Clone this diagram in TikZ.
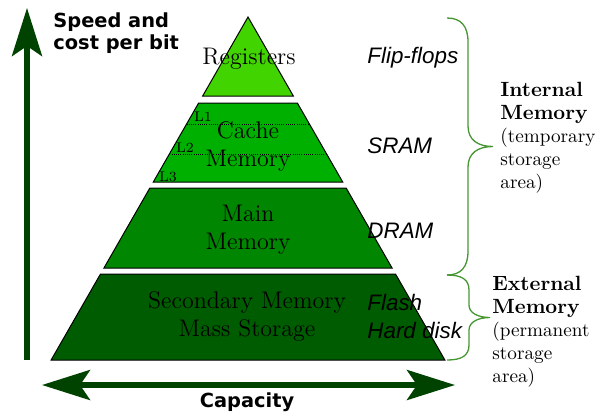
\documentclass[tikz,border=0pt]{standalone}
\usepackage{fontspec}
\newfontfamily\headfont{DejaVu Sans}
\newfontfamily\techfont{Liberation Sans}
\usetikzlibrary{arrows.meta,positioning}
\definecolor{regcol}{RGB}{66,212,0}
\definecolor{cachecol}{RGB}{0,176,0}
\definecolor{maincol}{RGB}{0,134,0}
\definecolor{seccol}{RGB}{0,92,0}
\definecolor{axiscol}{RGB}{0,66,0}
\definecolor{bracecol}{RGB}{70,150,50}

\begin{document}
\begin{tikzpicture}[x=0.5pt, y=-0.5pt, every node/.style={inner sep=0pt}]
  \tikzset{
    layer/.style={draw=black, line width=0.5pt},
    level/.style={font=\fontsize{12}{14}\selectfont, align=center},
    tech/.style={font=\techfont\itshape\fontsize{11.2}{14}\selectfont, align=left, anchor=west},
    cachelvl/.style={font=\fontsize{7}{8}\selectfont},
    lvlline/.style={line width=0.5pt, dash pattern=on 0.5pt off 0.6pt},
    kind/.style={font=\fontsize{9.6}{11.5}\selectfont, align=left, anchor=north west},
    bigtip/.tip={Stealth[length=24pt, width=15pt, inset=5pt]},
    axis/.style={draw=axiscol, line width=2.7pt},
    curly/.style={draw=bracecol, line width=0.65pt}
  }
  \useasboundingbox (0,0) rectangle (598,414);

  % pyramid layers
  \foreach \yt/\yb/\col in {17/96/regcol, 103/182/cachecol, 188/268/maincol, 274/360/seccol} {
    \draw[layer, fill=\col] ({248-0.574*(\yt-17)},\yt) -- ({248+0.574*(\yt-17)},\yt)
      -- ({248+0.574*(\yb-17)},\yb) -- ({248-0.574*(\yb-17)},\yb) -- cycle;
  }
  % cache levels
  \draw[lvlline] (186.6,124) -- (309.4,124);
  \draw[lvlline] (169.4,154) -- (326.6,154);
  \node[cachelvl] (l1) at (203,117) {L1};
  \node[cachelvl] (l2) at (185,148) {L2};
  \node[cachelvl] (l3) at (168,177) {L3};

  % layer names
  \node[level] (reg)  at (249,59)  {Registers};
  \node[level] (cache) at (248,146) {Cache\\Memory};
  \node[level] (main) at (248,230) {Main\\Memory};
  \node[level] (sec)  at (247,316) {Secondary Memory\\Mass Storage};

  % technologies
  \node[tech] (ff)   at (367,58)  {Flip-flops};
  \node[tech] (sram) at (367,146) {SRAM};
  \node[tech] (dram) at (367,231) {DRAM};
  \node[tech] (disk) at (367,316) {Flash\\Hard disk};

  % axes
  \coordinate (vbot) at (27,360);
  \coordinate (vtop) at (27,8);
  \coordinate (hl) at (42,385);
  \coordinate (hr) at (455,385);
  \draw[axis, -bigtip] (vbot) -- (vtop);
  \draw[axis, bigtip-bigtip] (hl) -- (hr);
  \node[font=\headfont\bfseries\fontsize{9.7}{11}\selectfont, align=left, anchor=west] (speed) at (53,33) {Speed and\\cost per bit};
  \node[font=\headfont\bfseries\fontsize{9.7}{11}\selectfont] (cap) at (247,402) {Capacity};

  % braces
  \draw[curly] (447,18) .. controls (461,18) and (468,26) .. (468,42) -- (468,126)
    .. controls (468,140) and (478,146.5) .. (493,146.5)
    .. controls (478,146.5) and (468,153) .. (468,167) -- (468,251)
    .. controls (468,267) and (461,275) .. (447,275);
  \draw[curly] (447,275) .. controls (461,275) and (469,279) .. (469,290) -- (469,305)
    .. controls (469,313) and (478,317.5) .. (490,317.5)
    .. controls (478,317.5) and (469,322) .. (469,330) -- (469,345)
    .. controls (469,356) and (461,360) .. (447,360);
  \node[kind] (intl) at (500,82) {\textbf{\fontsize{10.3}{11.5}\selectfont Internal}\\\textbf{\fontsize{10.3}{11.5}\selectfont Memory}\\(temporary\\storage\\area)};
  \node[kind] (extl) at (492,276) {\textbf{\fontsize{10.3}{11.5}\selectfont External}\\\textbf{\fontsize{10.3}{11.5}\selectfont Memory}\\(permanent\\storage\\area)};
\end{tikzpicture}
\end{document}
